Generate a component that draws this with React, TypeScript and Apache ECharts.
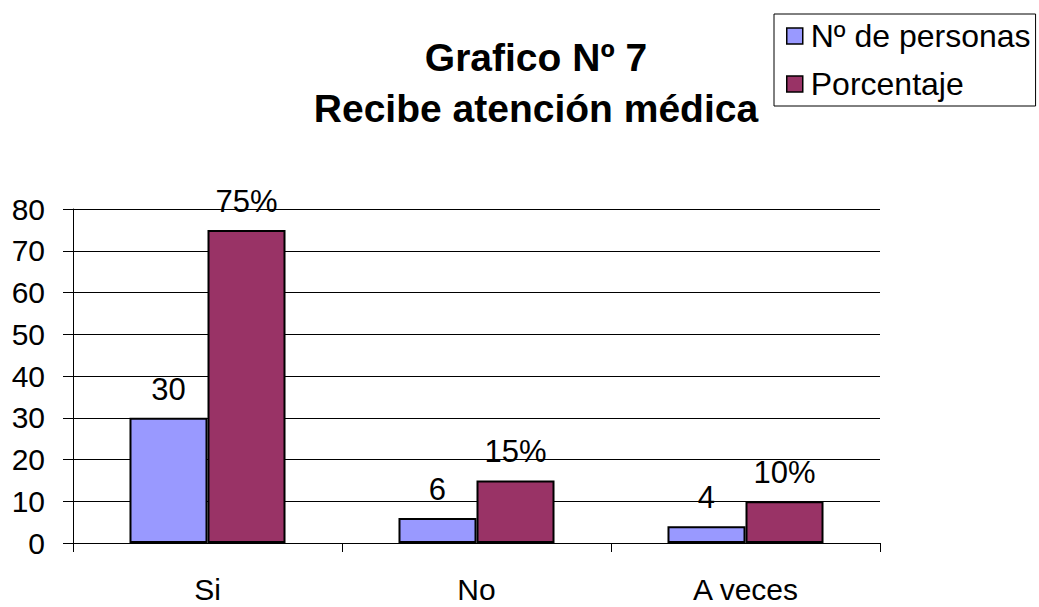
import React, { useEffect, useRef } from "react";
import * as echarts from "echarts";

const categories = ["Si", "No", "A veces"];
const personas = [30, 6, 4];
const porcentaje = [75, 15, 10];
const seriesNames = ["Nº de personas", "Porcentaje"];
const titleLines = ["Grafico Nº 7", "Recibe atención médica"];

const FONT = "'Liberation Sans', Arial, sans-serif";

export default function App() {
  const ref = useRef<HTMLDivElement>(null);
  useEffect(() => {
    if (!ref.current) return;
    const chart = echarts.init(ref.current, undefined, { renderer: "svg" });
    chart.setOption({
      animation: false,
      backgroundColor: "#ffffff",
      textStyle: { fontFamily: FONT },
      graphic: [
        {
          type: "text",
          x: 536,
          y: 57,
          style: {
            text: titleLines[0],
            fontSize: 39,
            fontWeight: "bold",
            fontFamily: FONT,
            fill: "#000",
            align: "center",
            verticalAlign: "middle",
          },
        },
        {
          type: "text",
          x: 536,
          y: 108,
          style: {
            text: titleLines[1],
            fontSize: 39,
            fontWeight: "bold",
            fontFamily: FONT,
            fill: "#000",
            align: "center",
            verticalAlign: "middle",
          },
        },
      ],
      legend: {
        orient: "vertical",
        left: 774,
        top: 14,
        borderColor: "#000",
        borderWidth: 1,
        padding: [6, 5, 6, 12],
        itemWidth: 16,
        itemHeight: 16,
        itemGap: 16,
        icon: "rect",
        itemStyle: { borderColor: "#000", borderWidth: 1.5 },
        textStyle: { fontSize: 32, fontFamily: FONT, color: "#000", padding: [0, 0, 0, 3] },
        data: seriesNames,
      },
      grid: { left: 73, top: 209, right: 159, bottom: 64, containLabel: false },
      xAxis: {
        type: "category",
        data: categories,
        axisLine: { lineStyle: { color: "#000", width: 1 } },
        axisTick: { show: true, length: 9, lineStyle: { color: "#000" } },
        axisLabel: { fontSize: 30, fontFamily: FONT, color: "#000", margin: 31 },
      },
      yAxis: {
        type: "value",
        min: 0,
        max: 80,
        interval: 10,
        axisLine: { show: true, lineStyle: { color: "#000", width: 1 } },
        axisTick: { show: true, length: 10, lineStyle: { color: "#000" } },
        axisLabel: { fontSize: 30, fontFamily: FONT, color: "#000", margin: 28 },
        splitLine: { show: true, lineStyle: { color: "#000", width: 1 } },
      },
      series: [
        {
          name: seriesNames[0],
          type: "bar",
          data: personas,
          barGap: "0%",
          barCategoryGap: "42%",
          itemStyle: { color: "#9999FF", borderColor: "#000", borderWidth: 2 },
          label: {
            show: true,
            position: "top",
            distance: 13,
            fontSize: 31,
            fontFamily: FONT,
            color: "#000",
          },
        },
        {
          name: seriesNames[1],
          type: "bar",
          data: porcentaje,
          barGap: "0%",
          barCategoryGap: "42%",
          itemStyle: { color: "#993366", borderColor: "#000", borderWidth: 2 },
          label: {
            show: true,
            position: "top",
            distance: 13,
            fontSize: 31,
            fontFamily: FONT,
            color: "#000",
            formatter: "{c}%",
          },
        },
      ],
    });
    return () => chart.dispose();
  }, []);
  return (
    <div
      ref={ref}
      style={{ position: "fixed", left: 0, top: 0, width: 1039, height: 607 }}
    />
  );
}
